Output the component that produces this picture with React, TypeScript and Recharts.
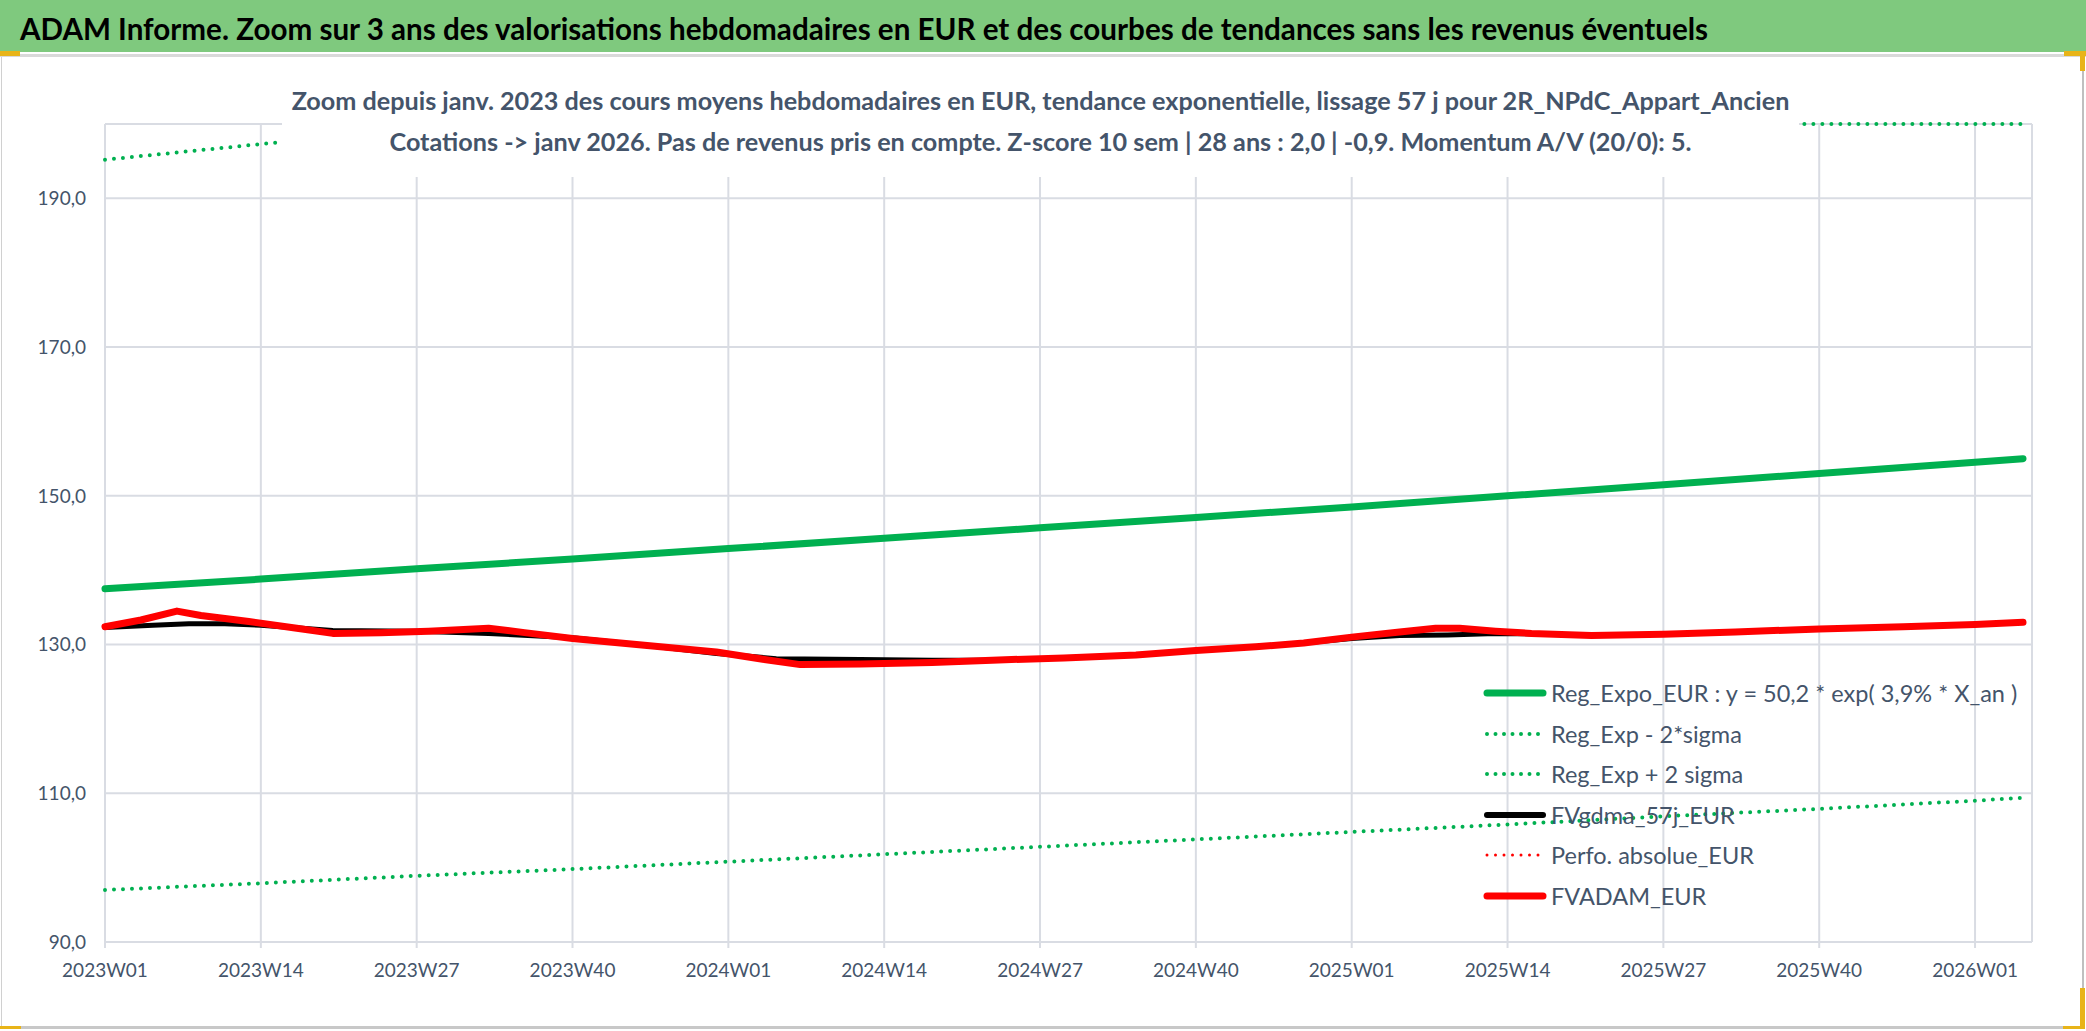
import React from 'react';
import { LineChart, Line, XAxis, YAxis, CartesianGrid } from 'recharts';

// ---------- categories ----------
const YEARS_FULL = [2023, 2024, 2025];
const WEEKS_PER_YEAR = 52;
const LAST_YEAR = 2026;
const LAST_YEAR_WEEKS = 5;
const weeks: string[] = [];
for (const y of YEARS_FULL) {
  for (let w = 1; w <= WEEKS_PER_YEAR; w++) weeks.push(`${y}W${String(w).padStart(2, '0')}`);
}
for (let w = 1; w <= LAST_YEAR_WEEKS; w++) weeks.push(`${LAST_YEAR}W${String(w).padStart(2, '0')}`);

// ---------- tick labels ----------
const xTicks = [
  '2023W01', '2023W14', '2023W27', '2023W40',
  '2024W01', '2024W14', '2024W27', '2024W40',
  '2025W01', '2025W14', '2025W27', '2025W40',
  '2026W01',
];
const yTicks = [90, 110, 130, 150, 170, 190];
const Y_MIN = 90;
const Y_MAX = 200;

// ---------- series values: [week index, value] ----------
const regExpo: [number, number][] = [
  [0, 137.5], [13, 138.8], [26, 140.2], [39, 141.5], [52, 142.9], [65, 144.3],
  [78, 145.7], [91, 147.1], [104, 148.5], [117, 150.0], [130, 151.5], [143, 153.0],
  [156, 154.5], [160, 155.0],
];
const regExpMinus: [number, number][] = [
  [0, 97.0], [13, 97.9], [26, 98.9], [39, 99.8], [52, 100.8], [65, 101.8],
  [78, 102.8], [91, 103.8], [104, 104.8], [117, 105.8], [130, 106.9], [143, 107.9],
  [156, 109.0], [160, 109.4],
];
const regExpPlus: [number, number][] = [
  [0, 195.2], [13, 197.3], [26, 199.4], [39, 201.5], [52, 203.5], [65, 205.5],
  [78, 207.6], [91, 209.7], [104, 211.8], [117, 213.9], [130, 216.0], [143, 218.2],
  [156, 220.4], [160, 221.0],
];
const fvGdma: [number, number][] = [
  [0, 132.3], [4, 132.6], [7, 132.8], [10, 132.8], [13, 132.6], [19, 131.9],
  [26, 131.8], [32, 131.5], [39, 130.9], [45, 129.9], [51, 128.8], [56, 128.1],
  [63, 128.0], [69, 127.9], [74, 127.9], [80, 128.2], [86, 128.6], [91, 129.2],
  [96, 129.7], [100, 130.2], [104, 130.8], [108, 131.2], [112, 131.3], [116, 131.5],
  [124, 131.3], [130, 131.4], [136, 131.7], [143, 132.1], [150, 132.4], [156, 132.7],
  [160, 133.0],
];
const fvAdam: [number, number][] = [
  [0, 132.4], [3, 133.3], [6, 134.5], [8, 133.9], [12, 133.1], [16, 132.2],
  [19, 131.5], [23, 131.6], [27, 131.8], [32, 132.2], [35, 131.6], [39, 130.8],
  [45, 129.9], [51, 129.0], [55, 128.0], [58, 127.3], [63, 127.4], [69, 127.6],
  [74, 127.9], [80, 128.2], [86, 128.6], [91, 129.2], [96, 129.7], [100, 130.2],
  [104, 131.0], [108, 131.7], [111, 132.2], [113, 132.2], [116, 131.8], [119, 131.5],
  [124, 131.2], [130, 131.4], [136, 131.7], [143, 132.1], [150, 132.4], [156, 132.7],
  [160, 133.0],
];

// ---------- texts ----------
const headerText =
  'ADAM Informe. Zoom sur 3 ans des valorisations hebdomadaires en EUR et des courbes de tendances sans les revenus éventuels';
const subtitle1 =
  'Zoom depuis janv. 2023 des cours moyens hebdomadaires en EUR, tendance exponentielle, lissage 57 j pour 2R_NPdC_Appart_Ancien';
const subtitle2 =
  'Cotations -> janv 2026. Pas de revenus pris en compte. Z-score 10 sem | 28 ans : 2,0 | -0,9. Momentum A/V (20/0): 5.';

// ---------- styles ----------
const FONT = 'Lato, "Noto Sans", sans-serif';
const TEXT_COLOR = '#44546A';
const GRID = '#D9DCE3';
const GREEN = '#00B050';

const toMap = (pts: [number, number][]) => new Map(pts.map(([i, v]) => [i, v]));
const mExpo = toMap(regExpo);
const mMinus = toMap(regExpMinus);
const mPlus = toMap(regExpPlus);
const mGdma = toMap(fvGdma);
const mAdam = toMap(fvAdam);

const data = weeks.map((wk, i) => ({
  week: wk,
  regExpo: mExpo.has(i) ? mExpo.get(i) : null,
  regMinus: mMinus.has(i) ? mMinus.get(i) : null,
  // Excel clips the curve on the top edge of the plot area
  regPlus: mPlus.has(i) ? Math.min(mPlus.get(i) as number, Y_MAX) : null,
  gdma: mGdma.has(i) ? mGdma.get(i) : null,
  adam: mAdam.has(i) ? mAdam.get(i) : null,
}));

type LegendItem = { name: string; color: string; dotted: boolean; width: number };
const legendItems: LegendItem[] = [
  { name: 'Reg_Expo_EUR : y = 50,2 * exp( 3,9% *  X_an )', color: GREEN, dotted: false, width: 7 },
  { name: 'Reg_Exp - 2*sigma', color: GREEN, dotted: true, width: 4 },
  { name: 'Reg_Exp + 2 sigma', color: GREEN, dotted: true, width: 4 },
  { name: 'FVgdma_57j_EUR', color: '#000000', dotted: false, width: 6 },
  { name: 'Perfo. absolue_EUR', color: '#FF0000', dotted: true, width: 3 },
  { name: 'FVADAM_EUR', color: '#FF0000', dotted: false, width: 7 },
];

const fmt = (v: number) => v.toFixed(1).replace('.', ',');

export default function App() {
  return (
    <div style={{ position: 'absolute', left: 0, top: 0, width: 2086, height: 1031, background: '#FFFFFF', overflow: 'hidden', fontFamily: FONT }}>
      {/* header band */}
      <div style={{ position: 'absolute', left: 0, top: 0, width: 2086, height: 52, background: '#7FC97E' }} />
      <div style={{ position: 'absolute', left: 20, top: 3, height: 52, lineHeight: '52px', fontSize: 29.6, fontWeight: 700, color: '#000', whiteSpace: 'nowrap' }}>
        {headerText}
      </div>
      <div style={{ position: 'absolute', left: 0, top: 54, width: 2086, height: 3, background: '#D9D9D9' }} />
      {/* chart frame */}
      <div style={{ position: 'absolute', left: 1, top: 57, width: 2080, height: 969, borderLeft: '1px solid #D0D0D0', borderRight: '2px solid #BFBFBF', borderBottom: '3px solid #C8C8C8' }} />
      {/* selection marks */}
      <div style={{ position: 'absolute', left: 0, top: 51, width: 20, height: 5, background: '#E8B418' }} />
      <div style={{ position: 'absolute', left: 2064, top: 51, width: 22, height: 5, background: '#E8B418' }} />
      <div style={{ position: 'absolute', left: 2080, top: 51, width: 5, height: 20, background: '#E8B418' }} />
      <div style={{ position: 'absolute', left: 2080, top: 988, width: 5, height: 41, background: '#E8B418' }} />
      <div style={{ position: 'absolute', left: 2063, top: 1026, width: 22, height: 3, background: '#E8B418' }} />
      <div style={{ position: 'absolute', left: 0, top: 1026, width: 21, height: 3, background: '#E8B418' }} />

      <div style={{ position: 'absolute', left: 0, top: 0 }}>
        <LineChart width={2086} height={1031} data={data} margin={{ top: 124, right: 54, bottom: 0, left: 0 }}>
          <CartesianGrid stroke={GRID} strokeWidth={2} horizontal vertical />
          <XAxis
            dataKey="week"
            ticks={xTicks}
            interval={0}
            height={89}
            axisLine={false}
            tickLine={{ stroke: GRID, strokeWidth: 2 }}
            tickSize={6}
            tickMargin={16}
            padding={{ left: 0, right: 9 }}
            tick={{ fill: TEXT_COLOR, fontSize: 19, fontFamily: FONT }}
          />
          <YAxis
            domain={[Y_MIN, Y_MAX]}
            ticks={yTicks}
            interval={0}
            width={105}
            axisLine={false}
            tickLine={false}
            tickSize={0}
            tickMargin={19}
            tickFormatter={fmt}
            tick={{ fill: TEXT_COLOR, fontSize: 19, fontFamily: FONT }}
          />
          <Line type="linear" dataKey="regExpo" stroke={GREEN} strokeWidth={7} dot={false} connectNulls isAnimationActive={false} strokeLinecap="round" />
          <Line type="linear" dataKey="regMinus" stroke={GREEN} strokeWidth={4} strokeDasharray="0 9" strokeLinecap="round" dot={false} connectNulls isAnimationActive={false} />
          <Line type="linear" dataKey="regPlus" stroke={GREEN} strokeWidth={4} strokeDasharray="0 9" strokeLinecap="round" dot={false} connectNulls isAnimationActive={false} />
          <Line type="linear" dataKey="gdma" stroke="#000000" strokeWidth={5} dot={false} connectNulls isAnimationActive={false} strokeLinecap="round" strokeLinejoin="round" />
          <Line type="linear" dataKey="adam" stroke="#FF0000" strokeWidth={7} dot={false} connectNulls isAnimationActive={false} strokeLinecap="round" strokeLinejoin="round" />
        </LineChart>
      </div>

      {/* chart title box (white, covers the top of the plot area like in Excel) */}
      <div style={{ position: 'absolute', left: 282, top: 70, width: 1517, height: 107, background: '#FFFFFF', paddingTop: 10, boxSizing: 'border-box', textAlign: 'center', color: TEXT_COLOR, fontWeight: 700, fontSize: 25.2, lineHeight: '41px', whiteSpace: 'nowrap' }}>
        <div>{subtitle1}</div>
        <div>{subtitle2}</div>
      </div>

      {/* legend */}
      <div style={{ position: 'absolute', left: 1483, top: 673 }}>
        {legendItems.map((it) => (
          <div key={it.name} style={{ height: 40.5, display: 'flex', alignItems: 'center' }}>
            <svg width={64} height={12} style={{ flex: 'none' }}>
              <line x1={4} y1={6} x2={60} y2={6} stroke={it.color} strokeWidth={it.width} strokeLinecap="round" strokeDasharray={it.dotted ? '0 8.5' : undefined} />
            </svg>
            <span style={{ marginLeft: 4, fontSize: 23.5, color: TEXT_COLOR, whiteSpace: 'nowrap' }}>{it.name}</span>
          </div>
        ))}
      </div>
    </div>
  );
}
